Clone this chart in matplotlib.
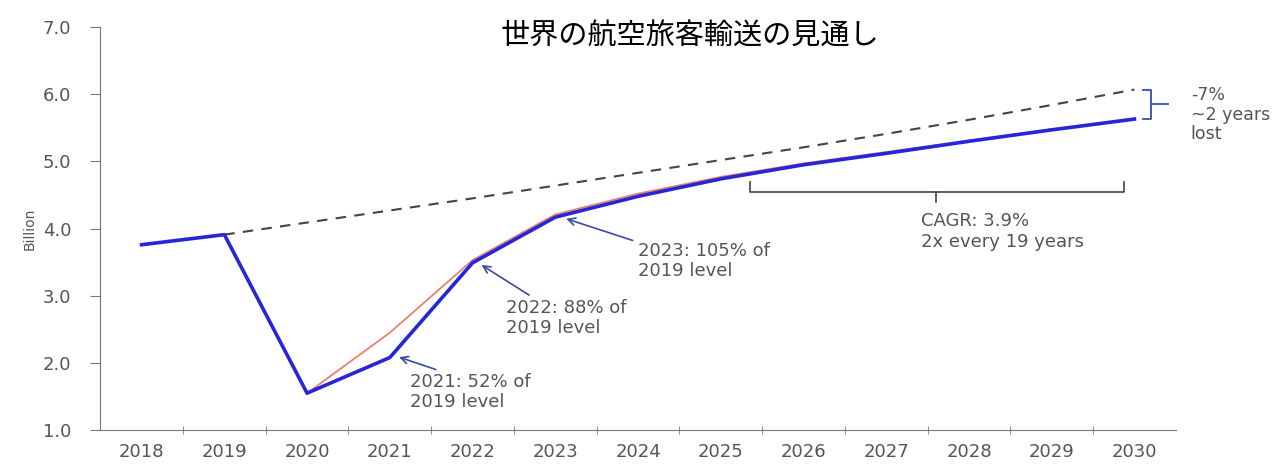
import matplotlib.pyplot as plt
import numpy as np

plt.rcParams['font.family'] = ['DejaVu Sans', 'Noto Sans CJK JP']

years = ['2018', '2019', '2020', '2021', '2022', '2023', '2024',
         '2025', '2026', '2027', '2028', '2029', '2030']
actual = [3.76, 3.91, 1.55, 2.08, 3.49, 4.17, 4.48, 4.74, 4.95, 5.12, 5.30, 5.47, 5.63]
alt = [3.76, 3.91, 1.55, 2.45, 3.53, 4.21, 4.52, 4.77, 4.97, 5.14, 5.31, 5.48, 5.64]
trend_years = years[1:]
trend = [3.91, 4.09, 4.27, 4.45, 4.64, 4.83, 5.02, 5.21, 5.41, 5.62, 5.84, 6.07]

grey = '#555555'
blue = '#2626d8'
x = np.arange(len(years))
xt = np.arange(1, len(years))

fig = plt.figure(figsize=(12.85, 4.67), dpi=100)
ax = fig.add_axes([0.078, 0.079, 0.837, 0.863])

ax.plot(xt, trend, color='#444444', lw=1.5, ls=(0, (5, 4)))
ax.plot(x, alt, color='#e8826e', lw=1.3)
ax.plot(x, actual, color=blue, lw=2.6)

ax.set_xlim(-0.5, 12.5)
ax.set_ylim(1.0, 7.0)
ax.set_yticks(np.arange(1, 8))
ax.set_yticklabels(['%.1f' % v for v in range(1, 8)])
ax.set_xticks(x)
ax.set_xticklabels(years)
ax.set_xticks(np.arange(0.5, 12.5, 1), minor=True)
ax.tick_params(axis='x', which='major', length=0, pad=9, labelsize=13, labelcolor=grey)
ax.tick_params(axis='x', which='minor', length=6, direction='inout', color='#777777')
ax.tick_params(axis='y', length=7, color='#777777', labelsize=13, labelcolor=grey, pad=14)
for s in ['top', 'right']:
    ax.spines[s].set_visible(False)
for s in ['left', 'bottom']:
    ax.spines[s].set_color('#777777')
ax.set_ylabel('Billion', color=grey, fontsize=10, labelpad=4)

# annotations
ax.annotate('2021: 52% of\n2019 level', xy=(3.08, 2.10), xytext=(3.25, 1.35),
            fontsize=13, color=grey, linespacing=1.1,
            arrowprops=dict(arrowstyle='->', color='#3a4aa0', lw=1.2, relpos=(0.3, 1.0)))
ax.annotate('2022: 88% of\n2019 level', xy=(4.08, 3.48), xytext=(4.4, 2.45),
            fontsize=13, color=grey, linespacing=1.1,
            arrowprops=dict(arrowstyle='->', color='#3a4aa0', lw=1.2, relpos=(0.25, 1.0)))
ax.annotate('2023: 105% of\n2019 level', xy=(5.1, 4.16), xytext=(6.0, 3.3),
            fontsize=13, color=grey, linespacing=1.1,
            arrowprops=dict(arrowstyle='->', color='#3a4aa0', lw=1.2, relpos=(0.0, 1.0)))

# CAGR bracket
bx0, bx1, by = 7.35, 11.88, 4.54
ax.plot([bx0, bx0, bx1, bx1], [4.69, by, by, 4.69], color='#444444', lw=1.2)
ax.plot([9.6, 9.6], [by, 4.40], color='#444444', lw=1.2)
ax.text(9.42, 4.24, 'CAGR: 3.9%\n2x every 19 years', fontsize=13, color=grey,
        va='top', ha='left', linespacing=1.15)

# gap bracket at 2030
gx = 12.2
ax.plot([12.1, gx, gx, 12.1], [6.07, 6.07, 5.63, 5.63], color='#4a5ab0', lw=1.4, clip_on=False)
ax.plot([gx, 12.4], [5.85, 5.85], color='#4a5ab0', lw=1.4, clip_on=False)
ax.text(12.68, 6.12, '-7%\n~2 years\nlost', fontsize=12.5, color=grey, va='top', ha='left',
        linespacing=1.1, clip_on=False)

fig.text(0.537, 0.922, '世界の航空旅客輸送の見通し', fontsize=21, ha='center', va='center',
         color='black', family=['Noto Sans CJK JP', 'DejaVu Sans'])

fig.savefig('out.png', dpi=100)
